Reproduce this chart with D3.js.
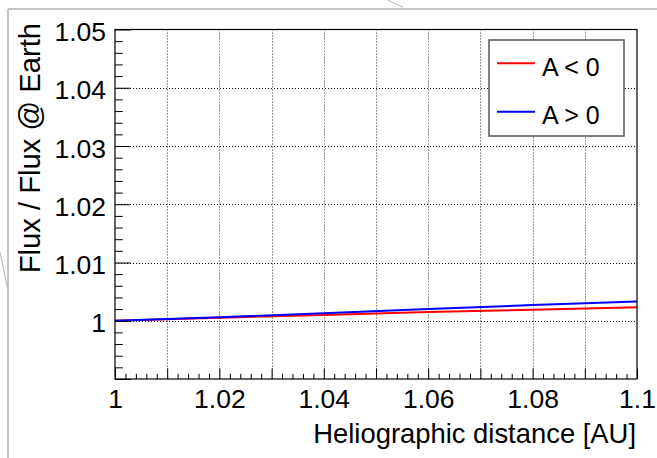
<!DOCTYPE html>
<html>
<head>
<meta charset="utf-8">
<script src="https://cdn.jsdelivr.net/npm/d3@7"></script>
<style>
  html, body { margin: 0; padding: 0; background: #fff; }
  svg { display: block; font-family: "Liberation Sans", Arial, Helvetica, sans-serif; }
</style>
</head>
<body>
<svg id="chart" width="657" height="458"></svg>
<script>
// ---- data ----
const distanceAU = [1.00, 1.02, 1.04, 1.06, 1.08, 1.10];
const fluxANeg   = [1.0000, 1.0005, 1.0010, 1.0015, 1.0019, 1.0023];
const fluxAPos   = [1.0000, 1.0006, 1.0013, 1.0020, 1.0027, 1.0033];
const seriesNames  = ["A < 0", "A > 0"];
const seriesColors = ["#ff0000", "#0000ff"];
const xTickLabels = [1, 1.02, 1.04, 1.06, 1.08, 1.1];
const yTickLabels = [1, 1.01, 1.02, 1.03, 1.04, 1.05];
const xTitle = "Heliographic distance [AU]";
const yTitle = "Flux / Flux @ Earth";

// ---- layout ----
const W = 657, H = 458;
const L = 115, R = 637, T = 29.5, B = 379;
const svg = d3.select("#chart");

const x = d3.scaleLinear().domain([1.0, 1.1]).range([L, R]);
const y = d3.scaleLinear().domain([0.99, 1.05]).range([B, T]);

// decorative page edges
const deco = svg.append("g").attr("stroke", "#b3b3b3").attr("stroke-width", 1.5).attr("fill", "none");
deco.append("line").attr("x1", 8).attr("y1", 9).attr("x2", W).attr("y2", 9);
deco.append("line").attr("x1", 8).attr("y1", 9).attr("x2", 8).attr("y2", H);
deco.append("line").attr("x1", 388).attr("y1", 0).attr("x2", 403).attr("y2", 7.3).attr("stroke-width", 1);
deco.append("line").attr("x1", 0).attr("y1", 252).attr("x2", 7.5).attr("y2", 288).attr("stroke-width", 1);

// plot background
svg.append("rect").attr("x", L).attr("y", T).attr("width", R - L).attr("height", B - T).attr("fill", "#fff");

// tick value sets
const xMajor = d3.range(0, 11).map(i => +(1 + i * 0.01).toFixed(3));
const xMinor = d3.range(0, 51).map(i => +(1 + i * 0.002).toFixed(4)).filter(v => !xMajor.some(m => Math.abs(m - v) < 1e-9));
const yMajor = d3.range(0, 7).map(i => +(0.99 + i * 0.01).toFixed(3));
const yMinor = d3.range(0, 31).map(i => +(0.99 + i * 0.002).toFixed(4)).filter(v => !yMajor.some(m => Math.abs(m - v) < 1e-9));

// grid
const grid = svg.append("g").attr("stroke-width", 1).attr("stroke-dasharray", "1,2");
grid.selectAll(".gx").data(xMajor.filter(v => v > 1.0001 && v < 1.0999)).join("line")
  .attr("stroke", "#333")
  .attr("x1", d => Math.round(x(d)) + 0.5).attr("x2", d => Math.round(x(d)) + 0.5)
  .attr("y1", T).attr("y2", B);
grid.selectAll(".gy").data(yTickLabels.filter(v => v < 1.0499)).join("line")
  .attr("stroke", "#000")
  .attr("y1", d => Math.round(y(d)) + 0.5).attr("y2", d => Math.round(y(d)) + 0.5)
  .attr("x1", L).attr("x2", R);

// data lines
svg.append("clipPath").attr("id", "clip").append("rect")
  .attr("x", L).attr("y", T).attr("width", R - L).attr("height", B - T);
const line = d3.line().x(d => x(d[0])).y(d => y(d[1]));
[fluxANeg, fluxAPos].forEach((vals, i) => {
  svg.append("path")
    .datum(distanceAU.map((d, j) => [d, vals[j]]))
    .attr("clip-path", "url(#clip)")
    .attr("fill", "none")
    .attr("stroke", seriesColors[i])
    .attr("stroke-width", 2)
    .attr("d", line);
});

// axes
const fmt = v => String(+(+v).toFixed(2));
const xAxis = svg.append("g").attr("transform", `translate(0,${B})`)
  .call(d3.axisBottom(x).tickValues(xMajor).tickSizeInner(-10.5).tickSizeOuter(0).tickPadding(10.5)
    .tickFormat(d => xTickLabels.some(t => Math.abs(t - d) < 1e-9) ? fmt(d) : ""));
const xAxisMinor = svg.append("g").attr("transform", `translate(0,${B})`)
  .call(d3.axisBottom(x).tickValues(xMinor).tickSizeInner(-5.2).tickSizeOuter(0).tickFormat(""));
const yAxis = svg.append("g").attr("transform", `translate(${L},0)`)
  .call(d3.axisLeft(y).tickValues(yMajor).tickSizeInner(-15.7).tickSizeOuter(0).tickPadding(9)
    .tickFormat(d => yTickLabels.some(t => Math.abs(t - d) < 1e-9) ? fmt(d) : ""));
const yAxisMinor = svg.append("g").attr("transform", `translate(${L},0)`)
  .call(d3.axisLeft(y).tickValues(yMinor).tickSizeInner(-7.8).tickSizeOuter(0).tickFormat(""));

[xAxis, xAxisMinor, yAxis, yAxisMinor].forEach(g => {
  g.select(".domain").remove();
  g.selectAll("line").attr("stroke", "#000").attr("stroke-width", 1);
  g.selectAll("text").attr("font-size", 26.5).attr("fill", "#000")
    .attr("font-family", "'Liberation Sans', Arial, Helvetica, sans-serif");
});
yAxis.selectAll("text").attr("dy", "0.42em");

// frame
svg.append("rect").attr("x", L).attr("y", T).attr("width", R - L).attr("height", B - T)
  .attr("fill", "none").attr("stroke", "#000").attr("stroke-width", 1.2);

// titles
svg.append("text").attr("x", 636).attr("y", 443).attr("text-anchor", "end")
  .attr("font-size", 27.4).attr("fill", "#000").text(xTitle);
svg.append("text").attr("transform", "translate(40,23) rotate(-90)").attr("text-anchor", "end")
  .attr("font-size", 29.2).attr("fill", "#000").text(yTitle);

// legend
const lg = svg.append("g");
lg.append("rect").attr("x", 489).attr("y", 40).attr("width", 135).attr("height", 96)
  .attr("fill", "#fff").attr("stroke", "#555").attr("stroke-width", 1.5);
seriesNames.forEach((name, i) => {
  const cy = 63.3 + i * 48.5;
  lg.append("line").attr("x1", 497).attr("x2", 535).attr("y1", cy).attr("y2", cy)
    .attr("stroke", seriesColors[i]).attr("stroke-width", 2);
  lg.append("text").attr("x", 542).attr("y", cy + 12.5).attr("font-size", 25)
    .attr("fill", "#000").text(name);
});
</script>
</body>
</html>
